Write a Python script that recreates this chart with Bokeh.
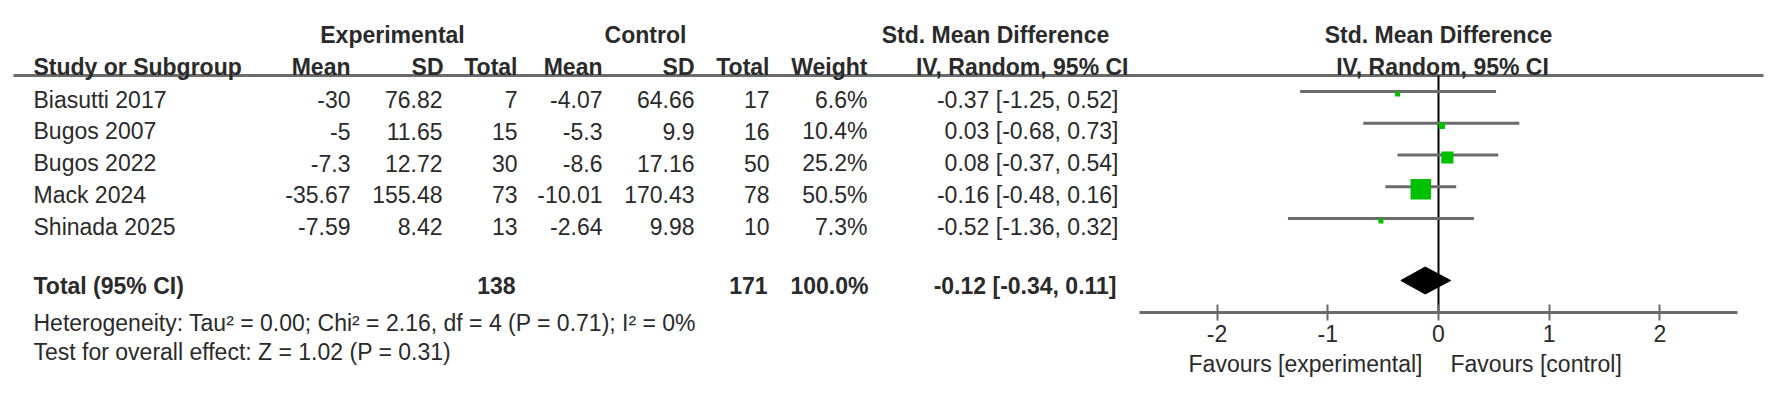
from bokeh.plotting import figure
from bokeh.models import Range1d, FixedTicker, LinearAxis, ColumnDataSource
from bokeh.embed import file_html
from bokeh.resources import INLINE
from bokeh.core.properties import value

# ---------------- data ----------------
studies = ["Biasutti 2017", "Bugos 2007", "Bugos 2022", "Mack 2024", "Shinada 2025"]
exp_mean = [-30, -5, -7.3, -35.67, -7.59]
exp_sd = [76.82, 11.65, 12.72, 155.48, 8.42]
exp_n = [7, 15, 30, 73, 13]
ctl_mean = [-4.07, -5.3, -8.6, -10.01, -2.64]
ctl_sd = [64.66, 9.9, 17.16, 170.43, 9.98]
ctl_n = [17, 16, 50, 78, 10]
weight = [6.6, 10.4, 25.2, 50.5, 7.3]
smd = [-0.37, 0.03, 0.08, -0.16, -0.52]
ci_lo = [-1.25, -0.68, -0.37, -0.48, -1.36]
ci_hi = [0.52, 0.73, 0.54, 0.16, 0.32]
total_label = "Total (95% CI)"
total_exp_n = 138
total_ctl_n = 171
total_weight = 100.0
total_smd = -0.12
total_lo = -0.34
total_hi = 0.11
heterogeneity = "Heterogeneity: Tau\u00b2 = 0.00; Chi\u00b2 = 2.16, df = 4 (P = 0.71); I\u00b2 = 0%"
overall = "Test for overall effect: Z = 1.02 (P = 0.31)"
ticks = [-2, -1, 0, 1, 2]
tick_labels = ["-2", "-1", "0", "1", "2"]
axis_limit = 2.7
null_effect = 0
favours_left = "Favours [experimental]"
favours_right = "Favours [control]"

# ---------------- style / layout ----------------
FONT = "Liberation Sans"
FS = "23px"
TXT = "#2a2a2a"
GRAY = "#6b6b6b"
GREEN = "#00c000"

W, H = 1772, 403
PX_PER_UNIT = 110.7
ZERO_PX = 1438
AXIS_Y = 312
HEAD_LINE_Y = 75
LINE_LEFT, LINE_RIGHT = 13, 1763
GROUP_Y = 34
COL_Y = 66
ROW0_Y = 99
ROW_STEP = 31.75
CI_SHIFT = -8
SQ_SHIFT = -5.5
TOTAL_Y = 285
DIAMOND_Y = 280
DIAMOND_HALF_H = 13.5
HET_Y = 322
TEST_Y = 351
FAV_Y = 363

row_y = [ROW0_Y + ROW_STEP * i for i in range(len(studies))]
ci_y = [y + CI_SHIFT for y in row_y]
sq_y = [y + SQ_SHIFT for y in row_y]


def fmt(v):
    return f"{v:g}"


p = figure(width=W, height=H, x_range=Range1d(0, W), y_range=Range1d(H, 0),
           x_axis_type=None, y_axis_type=None, output_backend="svg",
           toolbar_location=None, min_border=0)
p.extra_x_ranges = {"smd": Range1d((0 - ZERO_PX) / PX_PER_UNIT, (W - ZERO_PX) / PX_PER_UNIT)}
p.outline_line_color = None
p.grid.visible = False
p.background_fill_color = "white"


def txt(xs, ys, texts, align, bold=False, x_offset=0, rng="default"):
    src = ColumnDataSource(dict(x=list(xs), y=list(ys), t=list(texts)))
    p.text(x="x", y="y", text="t", source=src, text_align=align,
           text_baseline="middle", text_font=value(FONT),
           text_font_size=value(FS),
           text_font_style="bold" if bold else "normal",
           text_color=TXT, x_offset=x_offset, x_range_name=rng)


# header rule
p.segment(x0=[LINE_LEFT], y0=[HEAD_LINE_Y], x1=[LINE_RIGHT], y1=[HEAD_LINE_Y],
          line_color=GRAY, line_width=3)

# group headers
txt([392, 645, 995], [GROUP_Y] * 3, ["Experimental", "Control", "Std. Mean Difference"], "center", bold=True)
# column headers
txt([33], [COL_Y], ["Study or Subgroup"], "left", bold=True)
col_r = [350, 443, 517, 602, 694, 769, 867, 1128]
txt(col_r, [COL_Y] * len(col_r),
    ["Mean", "SD", "Total", "Mean", "SD", "Total", "Weight", "IV, Random, 95% CI"], "right", bold=True)

# study rows
txt([33] * len(studies), row_y, studies, "left")
txt([350] * 5, row_y, [fmt(v) for v in exp_mean], "right")
txt([442] * 5, row_y, [fmt(v) for v in exp_sd], "right")
txt([517] * 5, row_y, [fmt(v) for v in exp_n], "right")
txt([602] * 5, row_y, [fmt(v) for v in ctl_mean], "right")
txt([694] * 5, row_y, [fmt(v) for v in ctl_sd], "right")
txt([769] * 5, row_y, [fmt(v) for v in ctl_n], "right")
txt([867] * 5, row_y, [f"{w:.1f}%" for w in weight], "right")
txt([1118] * 5, row_y, [f"{s:.2f} [{l:.2f}, {h:.2f}]" for s, l, h in zip(smd, ci_lo, ci_hi)], "right")

# total row + footnotes
txt([33], [TOTAL_Y], [total_label], "left", bold=True)
txt([515, 767, 868, 1116], [TOTAL_Y] * 4,
    [str(total_exp_n), str(total_ctl_n), f"{total_weight:.1f}%",
     f"{total_smd:.2f} [{total_lo:.2f}, {total_hi:.2f}]"], "right", bold=True)
txt([33, 33], [HET_Y, TEST_Y], [heterogeneity, overall], "left")

# ---------------- forest panel (smd scale) ----------------
txt([null_effect], [GROUP_Y], ["Std. Mean Difference"], "center", bold=True, rng="smd")
txt([null_effect], [COL_Y], ["IV, Random, 95% CI"], "center", bold=True, x_offset=4, rng="smd")

# null line
p.segment(x0=[null_effect], y0=[HEAD_LINE_Y], x1=[null_effect], y1=[AXIS_Y],
          line_color="black", line_width=2, x_range_name="smd")

# CIs and squares
p.segment(x0=ci_lo, y0=ci_y, x1=ci_hi, y1=ci_y, line_color=GRAY, line_width=3,
          x_range_name="smd")
sizes = [max(5.0, 20.5 * (w / max(weight)) ** 0.75) for w in weight]
p.scatter(x=smd, y=sq_y, size=sizes, marker="square", fill_color=GREEN,
          line_color=None, x_range_name="smd")

# pooled diamond
p.patch(x=[total_lo, total_smd, total_hi, total_smd],
        y=[DIAMOND_Y, DIAMOND_Y - DIAMOND_HALF_H, DIAMOND_Y, DIAMOND_Y + DIAMOND_HALF_H],
        fill_color="black", line_color="black", x_range_name="smd")

# axis drawn at a fixed location inside the frame
axis = LinearAxis(x_range_name="smd", ticker=FixedTicker(ticks=ticks),
                  bounds=(-axis_limit, axis_limit), fixed_location=AXIS_Y,
                  major_label_overrides={t: l for t, l in zip(ticks, tick_labels)})
axis.axis_line_color = GRAY
axis.axis_line_width = 3
axis.major_tick_line_color = GRAY
axis.major_tick_line_width = 2
axis.major_tick_in = 8
axis.major_tick_out = 8
axis.minor_tick_line_color = None
axis.major_label_standoff = 4
axis.major_label_text_font = FONT
axis.major_label_text_font_size = FS
axis.major_label_text_color = TXT
p.add_layout(axis, "below")

# favours labels
txt([null_effect], [FAV_Y], [favours_left], "right", x_offset=-16, rng="smd")
txt([null_effect], [FAV_Y], [favours_right], "left", x_offset=12, rng="smd")

open("out.html", "w").write(file_html(p, INLINE))
